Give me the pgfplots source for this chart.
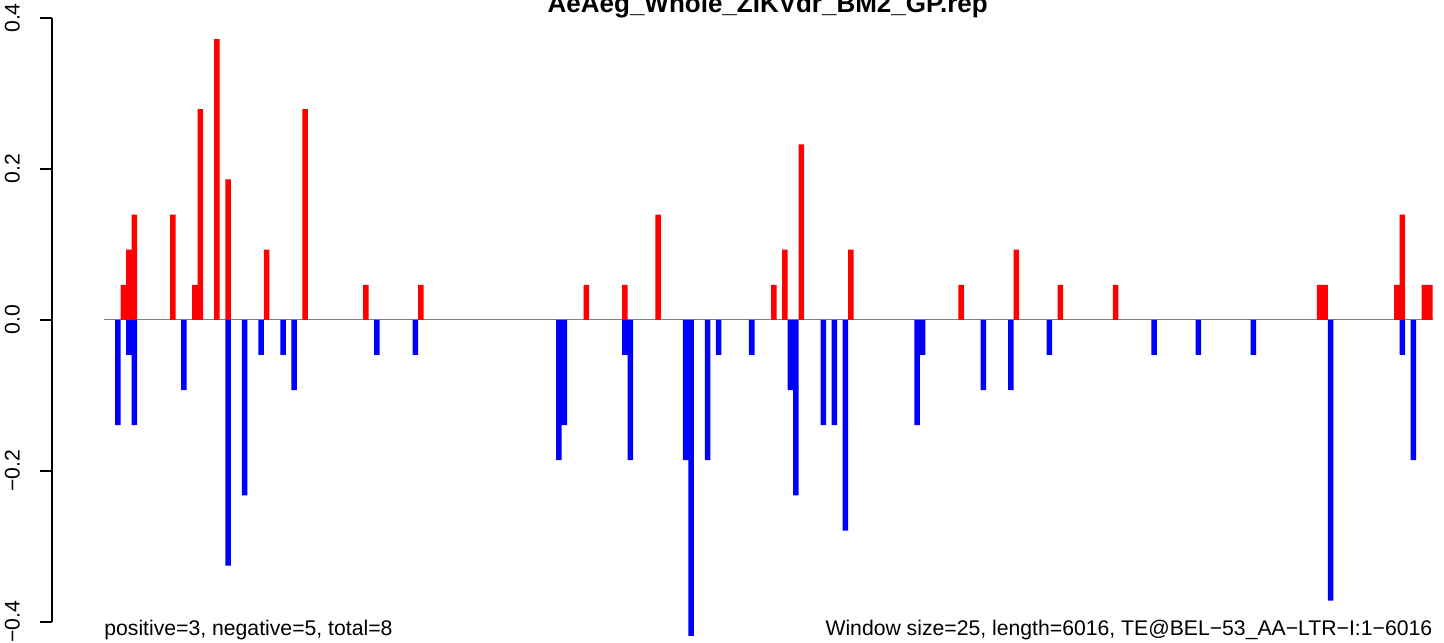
\documentclass[border=0pt]{standalone}
\usepackage{pgfplots}
\pgfplotsset{compat=1.18}
\usepackage{pgfplotstable}
\usepackage{fontspec}
\setmainfont{Liberation Sans}
\definecolor{rred}{RGB}{255,0,0}
\definecolor{rblue}{RGB}{0,0,255}
\definecolor{rgray}{RGB}{128,128,128}

% window index center, value
\pgfplotstableread{
x y
1.5 0.0465
2.5 0.0930
3.5 0.1395
10.5 0.1395
14.5 0.0465
15.5 0.2791
18.5 0.3721
20.5 0.1860
27.5 0.0930
34.5 0.2791
45.5 0.0465
55.5 0.0465
85.5 0.0465
92.5 0.0465
98.5 0.1395
119.5 0.0465
121.5 0.0930
124.5 0.2326
133.5 0.0930
153.5 0.0465
163.5 0.0930
171.5 0.0465
181.5 0.0465
218.5 0.0465
219.5 0.0465
232.5 0.0465
233.5 0.1395
237.5 0.0465
238.5 0.0465
}\postab

\pgfplotstableread{
x y
0.5 -0.1395
2.5 -0.0465
3.5 -0.1395
12.5 -0.0930
20.5 -0.3256
23.5 -0.2326
26.5 -0.0465
30.5 -0.0465
32.5 -0.0930
47.5 -0.0465
54.5 -0.0465
80.5 -0.1860
81.5 -0.1395
92.5 -0.0465
93.5 -0.1860
103.5 -0.1860
104.5 -0.4186
107.5 -0.1860
109.5 -0.0465
115.5 -0.0465
122.5 -0.0930
123.5 -0.2326
128.5 -0.1395
130.5 -0.1395
132.5 -0.2791
145.5 -0.1395
146.5 -0.0465
157.5 -0.0930
162.5 -0.0930
169.5 -0.0465
188.5 -0.0465
196.5 -0.0465
206.5 -0.0465
220.5 -0.3721
233.5 -0.0465
235.5 -0.1860
}\negtab

\begin{document}
\begin{tikzpicture}
\begin{axis}[
  scale only axis,
  width=690.65pt, height=302pt,
  xmin=-11.48, xmax=239,
  ymin=-0.4, ymax=0.4,
  axis x line=none,
  axis y line*=left,
  y axis line style={line width=0.8pt, black},
  ytick={-0.4,-0.2,0,0.2,0.4},
  yticklabels={−0.4,−0.2,0.0,0.2,0.4},
  tick align=outside,
  major tick length=6pt,
  every tick/.style={black, line width=0.8pt},
  yticklabel shift=10pt,
  yticklabel style={rotate=90, anchor=base, inner sep=0pt, font=\fontsize{10.6}{12}\selectfont},
  clip=false,
]
\addplot[rgray, line width=0.6pt, no marks] coordinates {(-2,0) (239,0)};
\addplot[ybar, bar width=1, bar shift=0pt, fill=rred, draw=none] table[x=x,y=y] {\postab};
\addplot[ybar, bar width=1, bar shift=0pt, fill=rblue, draw=none] table[x=x,y=y] {\negtab};

\node[anchor=base, inner sep=0pt, font=\fontsize{13}{15}\selectfont\bfseries] at (axis cs:118.4,0.4073) {AeAeg\_Whole\_ZIKVdr\_BM2\_GP.rep};
\node[anchor=base west, inner sep=0pt, font=\fontsize{10.6}{12}\selectfont] at (axis cs:-2,-0.4185) {positive=3, negative=5, total=8};
\node[anchor=base east, inner sep=0pt, font=\fontsize{10.6}{12}\selectfont] at (axis cs:239,-0.4185) {Window size=25, length=6016, TE@BEL−53\_AA−LTR−I:1−6016};

\coordinate (bbsw) at (axis cs:-20.86,-0.4278);
\coordinate (bbne) at (axis cs:241.07,0.4238);
\end{axis}
\pgfresetboundingbox
\path[use as bounding box] (bbsw) rectangle (bbne);
\end{tikzpicture}
\end{document}
